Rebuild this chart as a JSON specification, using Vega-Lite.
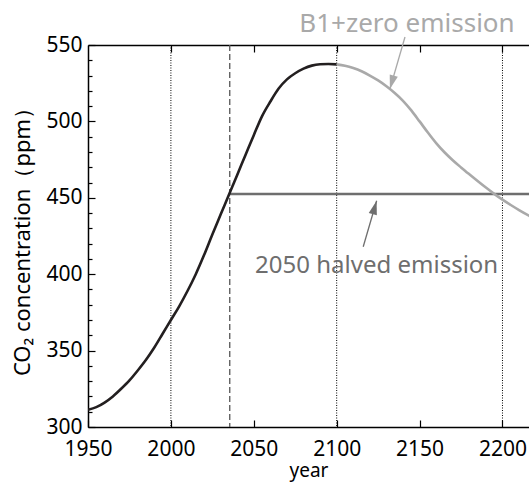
{
  "$schema": "https://vega.github.io/schema/vega-lite/v6.json",
  "width": 441,
  "height": 382,
  "autosize": {"type": "none"},
  "padding": {"left": 88, "top": 45, "right": 0, "bottom": 55},
  "background": "white",
  "view": {"stroke": null},
  "config": {
    "view": {"stroke": null},
    "font": "Noto Sans",
    "axis": {
      "domainColor": "black",
      "tickColor": "black",
      "labelColor": "black",
      "titleColor": "black",
      "labelFont": "Noto Sans",
      "titleFont": "Noto Sans",
      "titleFontWeight": "normal",
      "domainWidth": 1.5,
      "tickWidth": 1.2,
      "grid": false
    },
    "axisLeft": {
      "labelPadding": 13,
      "labelFontSize": 21,
      "labelOverlap": false,
      "titleFontSize": 22,
      "titlePadding": 11
    }
  },
  "datasets": {
    "curves": [
      {"scenario": "B1", "year": 1950, "ppm": 311.3},
      {"scenario": "B1", "year": 1955, "ppm": 313},
      {"scenario": "B1", "year": 1960, "ppm": 316},
      {"scenario": "B1", "year": 1965, "ppm": 320},
      {"scenario": "B1", "year": 1970, "ppm": 325},
      {"scenario": "B1", "year": 1975, "ppm": 330.5},
      {"scenario": "B1", "year": 1980, "ppm": 337},
      {"scenario": "B1", "year": 1985, "ppm": 344},
      {"scenario": "B1", "year": 1990, "ppm": 352},
      {"scenario": "B1", "year": 1995, "ppm": 361},
      {"scenario": "B1", "year": 2000, "ppm": 370},
      {"scenario": "B1", "year": 2005, "ppm": 379},
      {"scenario": "B1", "year": 2010, "ppm": 389},
      {"scenario": "B1", "year": 2015, "ppm": 400},
      {"scenario": "B1", "year": 2020, "ppm": 412.5},
      {"scenario": "B1", "year": 2025, "ppm": 426},
      {"scenario": "B1", "year": 2030, "ppm": 439},
      {"scenario": "B1", "year": 2035, "ppm": 452},
      {"scenario": "B1", "year": 2040, "ppm": 465},
      {"scenario": "B1", "year": 2045, "ppm": 478},
      {"scenario": "B1", "year": 2050, "ppm": 491},
      {"scenario": "B1", "year": 2055, "ppm": 503.5},
      {"scenario": "B1", "year": 2060, "ppm": 513},
      {"scenario": "B1", "year": 2065, "ppm": 521.5},
      {"scenario": "B1", "year": 2070, "ppm": 527.5},
      {"scenario": "B1", "year": 2075, "ppm": 531.5},
      {"scenario": "B1", "year": 2080, "ppm": 534.5},
      {"scenario": "B1", "year": 2085, "ppm": 536.5},
      {"scenario": "B1", "year": 2090, "ppm": 537.4},
      {"scenario": "B1", "year": 2095, "ppm": 537.6},
      {"scenario": "B1", "year": 2100, "ppm": 537.3},
      {"scenario": "B1+zero emission", "year": 2100, "ppm": 537.3},
      {"scenario": "B1+zero emission", "year": 2105, "ppm": 536.4},
      {"scenario": "B1+zero emission", "year": 2110, "ppm": 534.9},
      {"scenario": "B1+zero emission", "year": 2115, "ppm": 532.8},
      {"scenario": "B1+zero emission", "year": 2120, "ppm": 530},
      {"scenario": "B1+zero emission", "year": 2125, "ppm": 526.8},
      {"scenario": "B1+zero emission", "year": 2130, "ppm": 523},
      {"scenario": "B1+zero emission", "year": 2135, "ppm": 518.6},
      {"scenario": "B1+zero emission", "year": 2140, "ppm": 513.5},
      {"scenario": "B1+zero emission", "year": 2145, "ppm": 507.2},
      {"scenario": "B1+zero emission", "year": 2150, "ppm": 500},
      {"scenario": "B1+zero emission", "year": 2155, "ppm": 492.7},
      {"scenario": "B1+zero emission", "year": 2160, "ppm": 485.8},
      {"scenario": "B1+zero emission", "year": 2165, "ppm": 479.8},
      {"scenario": "B1+zero emission", "year": 2170, "ppm": 474.6},
      {"scenario": "B1+zero emission", "year": 2175, "ppm": 469.9},
      {"scenario": "B1+zero emission", "year": 2180, "ppm": 465.4},
      {"scenario": "B1+zero emission", "year": 2185, "ppm": 461},
      {"scenario": "B1+zero emission", "year": 2190, "ppm": 456.7},
      {"scenario": "B1+zero emission", "year": 2195, "ppm": 452.6},
      {"scenario": "B1+zero emission", "year": 2200, "ppm": 448.8},
      {"scenario": "B1+zero emission", "year": 2205, "ppm": 445.3},
      {"scenario": "B1+zero emission", "year": 2210, "ppm": 442},
      {"scenario": "B1+zero emission", "year": 2216, "ppm": 438.3},
      {"scenario": "B1+zero emission", "year": 2222, "ppm": 434.8}
    ],
    "century": [{"year": 2000}, {"year": 2100}, {"year": 2200}],
    "stabilisation": [{"scenario": "2050 halved emission", "start": 2035.5, "end": 2230, "ppm": 452.5}],
    "labels": [
      {"scenario": "B1+zero emission", "year": 2142.4, "ppm": 558.7},
      {"scenario": "2050 halved emission", "year": 2124.1, "ppm": 400.6}
    ],
    "arrows": [
      {"scenario": "B1+zero emission", "x0": 2141.2, "y0": 555.2, "x1": 2132.1, "y1": 521.2},
      {"scenario": "2050 halved emission", "x0": 2116.0, "y0": 418.0, "x1": 2124.1, "y1": 448.1}
    ]
  },
  "resolve": {"axis": {"x": "independent"}},
  "layer": [
    {
      "data": {"name": "century"},
      "mark": {"type": "rule", "color": "black", "strokeWidth": 1, "strokeDash": [1, 1.5]},
      "encoding": {
        "x": {
          "field": "year", "type": "quantitative",
          "scale": {"domain": [1950, 2216], "nice": false, "zero": false},
          "axis": {
            "orient": "bottom",
            "values": [1950, 2000, 2050, 2100, 2150, 2200],
            "format": "d",
            "tickSize": -7,
            "labelPadding": 18,
            "labelFontSize": 21,
            "labelFlush": false,
            "labelOverlap": false,
            "title": "year",
            "titleFontSize": 19,
            "titlePadding": 2
          }
        }
      }
    },
    {
      "data": {"name": "stabilisation"},
      "mark": {"type": "rule", "color": "#555555", "strokeWidth": 1.3, "strokeDash": [6, 3]},
      "encoding": {
        "x": {
          "field": "start", "type": "quantitative",
          "axis": {
            "orient": "top",
            "values": [2000, 2050, 2100, 2150, 2200],
            "tickSize": -7,
            "labels": false,
            "title": null
          }
        }
      }
    },
    {
      "data": {"name": "stabilisation"},
      "mark": {"type": "rule", "color": "#6e6e6e", "strokeWidth": 2.6, "clip": true},
      "encoding": {
        "x": {"field": "start", "type": "quantitative", "axis": null},
        "x2": {"field": "end"},
        "y": {
          "field": "ppm", "type": "quantitative",
          "scale": {"domain": [300, 550], "nice": false, "zero": false},
          "axis": {
            "orient": "left",
            "values": [300, 310, 320, 330, 340, 350, 360, 370, 380, 390, 400, 410, 420, 430, 440, 450, 460, 470, 480, 490, 500, 510, 520, 530, 540, 550],
            "labelExpr": "datum.value % 50 === 0 ? datum.label : ''",
            "tickSize": {"condition": {"test": "datum.value % 50 === 0", "value": -7}, "value": -4},
            "title": "CO₂ concentration（ppm）"
          }
        }
      }
    },
    {
      "data": {"name": "curves"},
      "mark": {"type": "line", "strokeWidth": 2.6, "clip": true, "interpolate": "monotone"},
      "encoding": {
        "x": {"field": "year", "type": "quantitative", "axis": null},
        "y": {
          "field": "ppm", "type": "quantitative",
          "axis": {
            "orient": "left",
            "values": [300, 310, 320, 330, 340, 350, 360, 370, 380, 390, 400, 410, 420, 430, 440, 450, 460, 470, 480, 490, 500, 510, 520, 530, 540, 550],
            "labelExpr": "datum.value % 50 === 0 ? datum.label : ''",
            "tickSize": {"condition": {"test": "datum.value % 50 === 0", "value": -7}, "value": -4},
            "title": "CO₂ concentration（ppm）"
          }
        },
        "color": {
          "field": "scenario", "type": "nominal",
          "scale": {"domain": ["B1", "B1+zero emission", "2050 halved emission"], "range": ["#231f20", "#a9a9a9", "#6e6e6e"]},
          "legend": null
        }
      }
    },
    {
      "data": {"name": "arrows"},
      "mark": {"type": "rule", "strokeWidth": 1.3},
      "encoding": {
        "x": {"field": "x0", "type": "quantitative", "axis": null},
        "y": {
          "field": "y0", "type": "quantitative",
          "axis": {
            "orient": "left",
            "values": [300, 310, 320, 330, 340, 350, 360, 370, 380, 390, 400, 410, 420, 430, 440, 450, 460, 470, 480, 490, 500, 510, 520, 530, 540, 550],
            "labelExpr": "datum.value % 50 === 0 ? datum.label : ''",
            "tickSize": {"condition": {"test": "datum.value % 50 === 0", "value": -7}, "value": -4},
            "title": "CO₂ concentration（ppm）"
          }
        },
        "x2": {"field": "x1"},
        "y2": {"field": "y1"},
        "color": {"field": "scenario", "type": "nominal", "legend": null}
      }
    },
    {
      "data": {"name": "arrows"},
      "transform": [{"filter": "datum.scenario === 'B1+zero emission'"}],
      "mark": {"type": "point", "shape": "M0,0L-0.6,2L0.6,2Z", "filled": true, "opacity": 1, "size": 196, "angle": 196},
      "encoding": {
        "x": {"field": "x1", "type": "quantitative", "axis": null},
        "y": {
          "field": "y1", "type": "quantitative",
          "axis": {
            "orient": "left",
            "values": [300, 310, 320, 330, 340, 350, 360, 370, 380, 390, 400, 410, 420, 430, 440, 450, 460, 470, 480, 490, 500, 510, 520, 530, 540, 550],
            "labelExpr": "datum.value % 50 === 0 ? datum.label : ''",
            "tickSize": {"condition": {"test": "datum.value % 50 === 0", "value": -7}, "value": -4},
            "title": "CO₂ concentration（ppm）"
          }
        },
        "color": {"field": "scenario", "type": "nominal", "legend": null}
      }
    },
    {
      "data": {"name": "arrows"},
      "transform": [{"filter": "datum.scenario === '2050 halved emission'"}],
      "mark": {"type": "point", "shape": "M0,0L-0.6,2L0.6,2Z", "filled": true, "opacity": 1, "size": 196, "angle": 16},
      "encoding": {
        "x": {"field": "x1", "type": "quantitative", "axis": null},
        "y": {
          "field": "y1", "type": "quantitative",
          "axis": {
            "orient": "left",
            "values": [300, 310, 320, 330, 340, 350, 360, 370, 380, 390, 400, 410, 420, 430, 440, 450, 460, 470, 480, 490, 500, 510, 520, 530, 540, 550],
            "labelExpr": "datum.value % 50 === 0 ? datum.label : ''",
            "tickSize": {"condition": {"test": "datum.value % 50 === 0", "value": -7}, "value": -4},
            "title": "CO₂ concentration（ppm）"
          }
        },
        "color": {"field": "scenario", "type": "nominal", "legend": null}
      }
    },
    {
      "data": {"name": "labels"},
      "mark": {"type": "text", "align": "center", "baseline": "alphabetic"},
      "encoding": {
        "x": {"field": "year", "type": "quantitative", "axis": null},
        "y": {
          "field": "ppm", "type": "quantitative",
          "axis": {
            "orient": "left",
            "values": [300, 310, 320, 330, 340, 350, 360, 370, 380, 390, 400, 410, 420, 430, 440, 450, 460, 470, 480, 490, 500, 510, 520, 530, 540, 550],
            "labelExpr": "datum.value % 50 === 0 ? datum.label : ''",
            "tickSize": {"condition": {"test": "datum.value % 50 === 0", "value": -7}, "value": -4},
            "title": "CO₂ concentration（ppm）"
          }
        },
        "text": {"field": "scenario"},
        "color": {"field": "scenario", "type": "nominal", "legend": null},
        "size": {
          "field": "scenario", "type": "nominal",
          "scale": {"domain": ["B1+zero emission", "2050 halved emission"], "range": [26, 24]},
          "legend": null
        }
      }
    }
  ]
}
